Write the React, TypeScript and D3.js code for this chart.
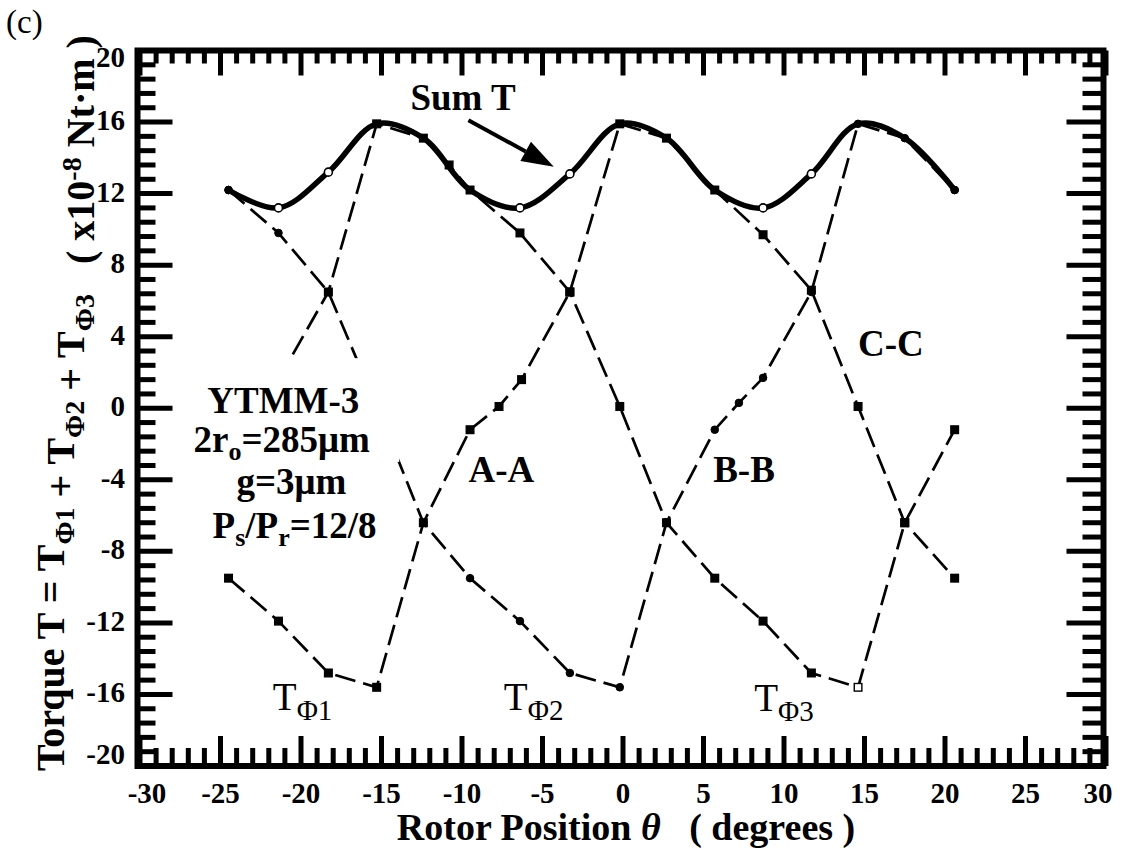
import * as d3 from 'd3'

// rotor position (degrees) and torque (x10^-8 Nt·m)
const sumX = [-24.5, -21.4, -18.3, -15.3, -12.4, -9.5, -6.4, -3.3, -0.2, 2.7, 5.7, 8.7, 11.7, 14.6, 17.5, 20.6]
const sumY = [12.2, 11.2, 13.2, 15.9, 15.1, 12.2, 11.2, 13.1, 15.9, 15.1, 12.2, 11.2, 13.1, 15.9, 15.1, 12.2]
const sumOpen = [1, 2, 6, 7, 11, 12]

const phi1X = [-24.5, -21.4, -18.3, -15.3, -12.4, -9.5, -7.7, -6.3, -3.3, -0.2, 2.7, 5.7, 8.7, 11.7, 14.6, 17.5, 20.6]
const phi1Y = [-9.5, -11.9, -14.8, -15.6, -6.4, -1.2, 0.1, 1.6, 6.5, 15.9, 15.1, 12.2, 9.7, 6.6, 0.1, -6.4, -9.5]

const phi2X = [-24.5, -21.4, -18.3, -15.3, -12.4, -9.5, -6.4, -3.3, -0.2, 2.7, 5.7, 7.2, 8.7, 11.7, 14.6, 17.5, 20.6]
const phi2Y = [12.2, 9.8, 6.5, 0.1, -6.4, -9.5, -11.9, -14.8, -15.6, -6.4, -1.2, 0.3, 1.7, 6.5, 15.9, 15.1, 12.2]

const phi3X = [-21.4, -18.3, -15.3, -12.4, -10.8, -9.5, -6.4, -3.3, -0.2, 2.7, 5.7, 8.7, 11.7, 14.6, 17.5, 20.6]
const phi3Y = [1.6, 6.5, 15.9, 15.1, 13.6, 12.2, 9.8, 6.5, 0.1, -6.4, -9.5, -11.9, -14.8, -15.6, -6.4, -1.2]

const xTickLabels = [-30, -25, -20, -15, -10, -5, 0, 5, 10, 15, 20, 25, 30]
const yTickLabels = [20, 16, 12, 8, 4, 0, -4, -8, -12, -16, -20]

const FONT = "'Liberation Serif', 'Times New Roman', serif"

function App() {
  const width = 1122
  const height = 849

  const x = d3.scaleLinear().domain([-30, 30]).range([140, 1106])
  const y = d3.scaleLinear().domain([-20, 20]).range([766, 50.5])

  const frame = { x0: x(-30) - 2.5, x1: x(30) - 2.5, y0: y(20), y1: y(-20) }

  const toPts = (xs, ys) => xs.map((v, i) => [v, ys[i]])
  const line = d3.line().x(d => x(d[0])).y(d => y(d[1]))
  const smooth = d3.line().x(d => x(d[0])).y(d => y(d[1])).curve(d3.curveCatmullRom.alpha(0.5))

  const xMinor = d3.range(-30, 30.01, 1)
  const yMinor = d3.range(0, 51).map(i => -20 + i * 0.8)
  const isMajorX = v => Math.abs(v % 5) < 1e-6
  const isMajorY = v => Math.abs(Math.round(v / 4) * 4 - v) < 1e-6

  const phases = [
    { pts: toPts(phi1X, phi1Y), shape: 'square' },
    { pts: toPts(phi2X, phi2Y), shape: 'circle' },
    { pts: toPts(phi3X, phi3Y), shape: 'square' },
  ]

  const marker = (shape, d, key, open = false) => {
    const cx = x(d[0]), cy = y(d[1])
    if (shape === 'circle') {
      return <circle key={key} cx={cx} cy={cy} r={open ? 4 : 3.8}
        fill={open ? 'white' : 'black'} stroke="black" strokeWidth={open ? 1.6 : 1} />
    }
    return <rect key={key} x={cx - 3.8} y={cy - 3.8} width={7.6} height={7.6}
      fill={open ? 'white' : 'black'} stroke="black" strokeWidth={1.4} />
  }

  // white box behind the motor description
  const box = { x0: x(-27), x1: x(-13.9), y0: y(2.8), y1: y(-3) }

  const arrowFrom = [x(-9.6), y(16.1)]
  const arrowTip = [x(-4.3), y(13.5)]
  const ang = Math.atan2(arrowTip[1] - arrowFrom[1], arrowTip[0] - arrowFrom[0])
  const headLen = 32, headW = 11
  const hb = [arrowTip[0] - headLen * Math.cos(ang), arrowTip[1] - headLen * Math.sin(ang)]
  const head = [
    arrowTip,
    [hb[0] + headW * Math.sin(ang), hb[1] - headW * Math.cos(ang)],
    [hb[0] - headW * Math.sin(ang), hb[1] + headW * Math.cos(ang)],
  ]

  const subPhi = (n, size, shift = 9) => (
    <>
      <tspan fontSize={size} dy={shift}>Φ{n}</tspan>
      <tspan dy={-shift}></tspan>
    </>
  )

  return (
    <div style={{ position: 'absolute', left: 0, top: 0 }}>
      <svg width={width} height={height} style={{ display: 'block', background: 'white' }}
        fontFamily={FONT}>
        <rect width={width} height={height} fill="white" />

        {/* panel tag */}
        <text x={6} y={33} fontSize={33}>(c)</text>

        {/* phase torque curves */}
        {phases.map((p, i) => (
          <path key={'ph' + i} d={line(p.pts)} fill="none" stroke="black"
            strokeWidth={2.7} strokeDasharray="21 8" />
        ))}
        {phases.map((p, i) => p.pts.map((d, j) =>
          marker(p.shape, d, 'm' + i + '-' + j, i === 2 && j === 13)
        ))}

        <rect x={box.x0} y={box.y0} width={box.x1 - box.x0} height={box.y1 - box.y0} fill="white" />

        {/* sum torque */}
        <path d={smooth(toPts(sumX, sumY))} fill="none" stroke="black" strokeWidth={5.5} strokeLinejoin="round" />
        {sumOpen.map(i => marker('circle', [sumX[i], sumY[i]], 'so' + i, true))}
        {marker('circle', [sumX[0], sumY[0]], 's0')}
        {marker('circle', [sumX[sumX.length - 1], sumY[sumY.length - 1]], 'sn')}

        {/* frame and ticks */}
        <rect x={frame.x0} y={frame.y0} width={frame.x1 - frame.x0} height={frame.y1 - frame.y0}
          fill="none" stroke="black" strokeWidth={6} />
        <g stroke="black" strokeWidth={5}>
          {xMinor.map(v => {
            const big = isMajorX(v)
            const px = x(v)
            return (
              <g key={'xt' + v}>
                <line x1={px} x2={px} y1={frame.y1} y2={frame.y1 - (big ? 30 : 18)} />
                <line x1={px} x2={px} y1={frame.y0} y2={frame.y0 + (big ? 25 : 13)} />
              </g>
            )
          })}
          {yMinor.map(v => {
            const big = isMajorY(v)
            const py = y(v)
            return (
              <g key={'yt' + v.toFixed(1)}>
                <line x1={frame.x0} x2={frame.x0 + (big ? 35 : 18)} y1={py} y2={py} />
                <line x1={frame.x1} x2={frame.x1 - (big ? 37 : 21)} y1={py} y2={py} />
              </g>
            )
          })}
        </g>

        {/* tick labels */}
        <g fontSize={29} fontWeight="bold">
          {xTickLabels.map(v => (
            <text key={'xl' + v} x={Math.min(Math.max(x(v), 147), 1098)} y={803} textAnchor="middle">{v}</text>
          ))}
          {yTickLabels.map(v => (
            <text key={'yl' + v} x={125} y={Math.min(Math.max(y(v) - 2, 57), 754)}
              textAnchor="end" dominantBaseline="central">{v}</text>
          ))}
        </g>

        {/* axis titles */}
        <text x={626} y={840} fontSize={38} fontWeight="bold" textAnchor="middle" xmlSpace="preserve"
          style={{ whiteSpace: 'pre' }}>
          Rotor Position <tspan fontStyle="italic">θ</tspan>   ( degrees )
        </text>
        <text transform="translate(64,403) rotate(-90)" fontSize={40} fontWeight="bold"
          textAnchor="middle" xmlSpace="preserve" style={{ whiteSpace: 'pre' }}>
          Torque T = T{subPhi(1, 28, 10)} + T{subPhi(2, 28, 10)} + T{subPhi(3, 28, 10)}   ( x10<tspan fontSize={28} dy={-13}>-8</tspan><tspan dy={13}> Nt·m )</tspan>
        </text>

        {/* annotations */}
        <g fontWeight="bold" fontSize={37}>
          <text x={x(-13.2)} y={y(16.7)}>Sum T</text>
          <text x={x(-9.6)} y={y(-4.1)}>A-A</text>
          <text x={x(5.6)} y={y(-4.1)}>B-B</text>
          <text x={x(14.6)} y={y(2.9)}>C-C</text>
          <g textAnchor="middle">
            <text x={x(-21.1)} y={y(-0.25)}>YTMM-3</text>
            <text x={x(-21.2)} y={y(-2.45)}>2r<tspan fontSize={26} dy={8}>o</tspan><tspan dy={-8}>=285μm</tspan></text>
            <text x={x(-20.6)} y={y(-4.8)}>g=3μm</text>
            <text x={x(-20.4)} y={y(-7.25)}>P<tspan fontSize={26} dy={8}>s</tspan><tspan dy={-8}>/P</tspan><tspan fontSize={26} dy={8}>r</tspan><tspan dy={-8}>=12/8</tspan></text>
          </g>
        </g>
        <g fontSize={39}>
          <text x={x(-21.75)} y={y(-16.85)}>T{subPhi(1, 29, 10)}</text>
          <text x={x(-7.4)} y={y(-16.85)}>T{subPhi(2, 29, 10)}</text>
          <text x={x(8.15)} y={y(-16.95)}>T{subPhi(3, 29, 10)}</text>
        </g>

        {/* arrow to the sum curve */}
        <line x1={arrowFrom[0]} y1={arrowFrom[1]} x2={hb[0]} y2={hb[1]} stroke="black" strokeWidth={4} />
        <polygon points={head.map(p => p.join(',')).join(' ')} fill="black" />
      </svg>
    </div>
  )
}

export default App
